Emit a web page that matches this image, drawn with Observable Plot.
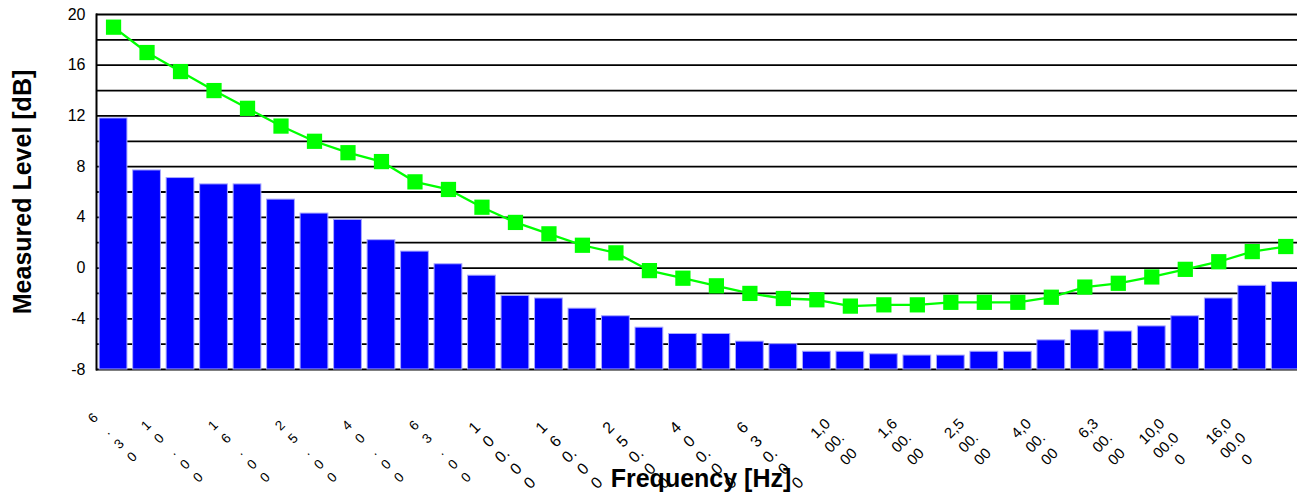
<!DOCTYPE html>
<html><head><meta charset="utf-8">
<script src="https://cdn.jsdelivr.net/npm/d3@7"></script>
<script src="https://cdn.jsdelivr.net/npm/@observablehq/plot@0.6"></script>
<style>html,body{margin:0;padding:0;background:#fff;} #chart svg{display:block}</style>
</head><body><div id="chart"></div>
<script>
// One-third octave bands [Hz]
const bands = ["6.3","8","10","12.5","16","20","25","31.5","40","50","63","80","100","125","160","200","250","315","400","500","630","800","1000","1250","1600","2000","2500","3150","4000","5000","6300","8000","10000","12500","16000","20000"];
// Bars: measured level [dB]
const measured = [11.8,7.7,7.1,6.6,6.6,5.4,4.3,3.8,2.2,1.3,0.3,-0.6,-2.2,-2.4,-3.2,-3.8,-4.7,-5.2,-5.2,-5.8,-6.0,-6.6,-6.6,-6.8,-6.9,-6.9,-6.6,-6.6,-5.7,-4.9,-5.0,-4.6,-3.8,-2.4,-1.4,-1.1];
// Line: reference curve [dB]
const reference = [19.0,17.0,15.5,14.0,12.6,11.2,10.0,9.1,8.4,6.8,6.2,4.8,3.6,2.7,1.8,1.2,-0.2,-0.8,-1.4,-2.0,-2.4,-2.5,-3.0,-2.9,-2.9,-2.7,-2.7,-2.7,-2.3,-1.5,-1.2,-0.7,-0.1,0.5,1.3,1.7];

// Axis ticks
const yTicks = [-8,-4,0,4,8,12,16,20];
const yGrid = [-8,-6,-4,-2,0,2,4,6,8,10,12,14,16,18,20];
const tickBands = ["6.3","10","16","25","40","63","100","160","250","400","630","1000","1600","2500","4000","6300","10000","16000"];
const tickLabels = ["6.30","10.00","16.00","25.00","40.00","63.00","100.00","160.00","250.00","400.00","630.00","1,000.00","1,600.00","2,500.00","4,000.00","6,300.00","10,000.00","16,000.00"];
// the labels as wrapped in the reference
const tickLabelLines = ["6\n.\n3\n0","1\n0\n.\n0\n0","1\n6\n.\n0\n0","2\n5\n.\n0\n0","4\n0\n.\n0\n0","6\n3\n.\n0\n0",
  "1\n0\n0.\n0\n0","1\n6\n0.\n0\n0","2\n5\n0.\n0\n0","4\n0\n0.\n0\n0","6\n3\n0.\n0\n0",
  "1,0\n00.\n00","1,6\n00.\n00","2,5\n00.\n00","4,0\n00.\n00","6,3\n00.\n00","10,0\n00.0\n0","16,0\n00.0\n0"];
// label groups, as wrapped/sized differently in the reference
const groupA = ["6.30"];
const groupB = ["10.00","16.00","25.00","40.00","63.00"];
const groupC = ["100.00","160.00","250.00","400.00","630.00"];
const groupD = ["1,000.00","1,600.00","2,500.00","4,000.00","6,300.00"];
const groupE = ["10,000.00","16,000.00"];

const xTitle = "Frequency [Hz]";
const yTitle = "Measured Level [dB]";

const data = bands.map((b, i) => ({band: b, measured: measured[i], reference: reference[i]}));
const ticks = tickBands.map((b, i) => ({band: b, label: tickLabels[i], text: tickLabelLines[i]}));

function tickText(group, o) {
  return Plot.text(ticks.filter(d => group.includes(d.label)), {
    x: "band", text: "text", frameAnchor: "bottom", rotate: -45,
    textAnchor: "middle", lineAnchor: "middle", fill: "black", ...o
  });
}

const chart = Plot.plot({
  width: 1297,
  height: 497,
  marginLeft: 96,
  marginRight: 0,
  marginTop: 14,
  marginBottom: 128,
  style: {fontFamily: "'Liberation Sans', Arial, Helvetica, sans-serif", fontSize: "16px", color: "black", background: "white"},
  x: {type: "band", domain: bands, range: [96.3, 1302], paddingInner: 0.17, paddingOuter: 0.085, round: false, axis: null},
  y: {domain: [-8, 20], axis: null},
  marks: [
    Plot.ruleY(yGrid, {stroke: "black", strokeWidth: 1.8}),
    Plot.barY(data, {x: "band", y1: -8, y2: "measured", fill: "#0000ff", stroke: "#a8a8ff", strokeWidth: 1}),
    Plot.line(data, {x: "band", y: "reference", stroke: "#00ff00", strokeWidth: 2.3}),
    Plot.dot(data, {x: "band", y: "reference", symbol: "square", r: 8.6, fill: "#00ff00", stroke: "none"}),
    Plot.frame({anchor: "left", stroke: "black", strokeWidth: 2}),
    Plot.axisY({ticks: yTicks, tickSize: 0, tickPadding: 11, fontSize: 16, label: null, tickFormat: d => String(d)}),
    tickText(groupA, {dx: -2, dy: 67, fontSize: 13.5, lineHeight: 1.36}),
    tickText(groupB, {dx: -9.5, dy: 81, fontSize: 13.5, lineHeight: 1.36}),
    tickText(groupC, {dx: -14, dy: 85, fontSize: 16, lineHeight: 1.22}),
    tickText(groupD, {dx: -17, dy: 72, fontSize: 15, lineHeight: 1.33}),
    tickText(groupE, {dx: -20.5, dy: 75, fontSize: 15, lineHeight: 1.33}),
    Plot.text([yTitle], {frameAnchor: "left", dx: -74, rotate: -90, textAnchor: "middle", lineAnchor: "middle",
      fontSize: 25, fontWeight: "bold", fill: "black"}),
    Plot.text([xTitle], {frameAnchor: "bottom", dx: 4, dy: 109, textAnchor: "middle", lineAnchor: "middle",
      fontSize: 25, fontWeight: "bold", fill: "black"})
  ]
});
document.getElementById("chart").appendChild(chart);
</script>
</body></html>
